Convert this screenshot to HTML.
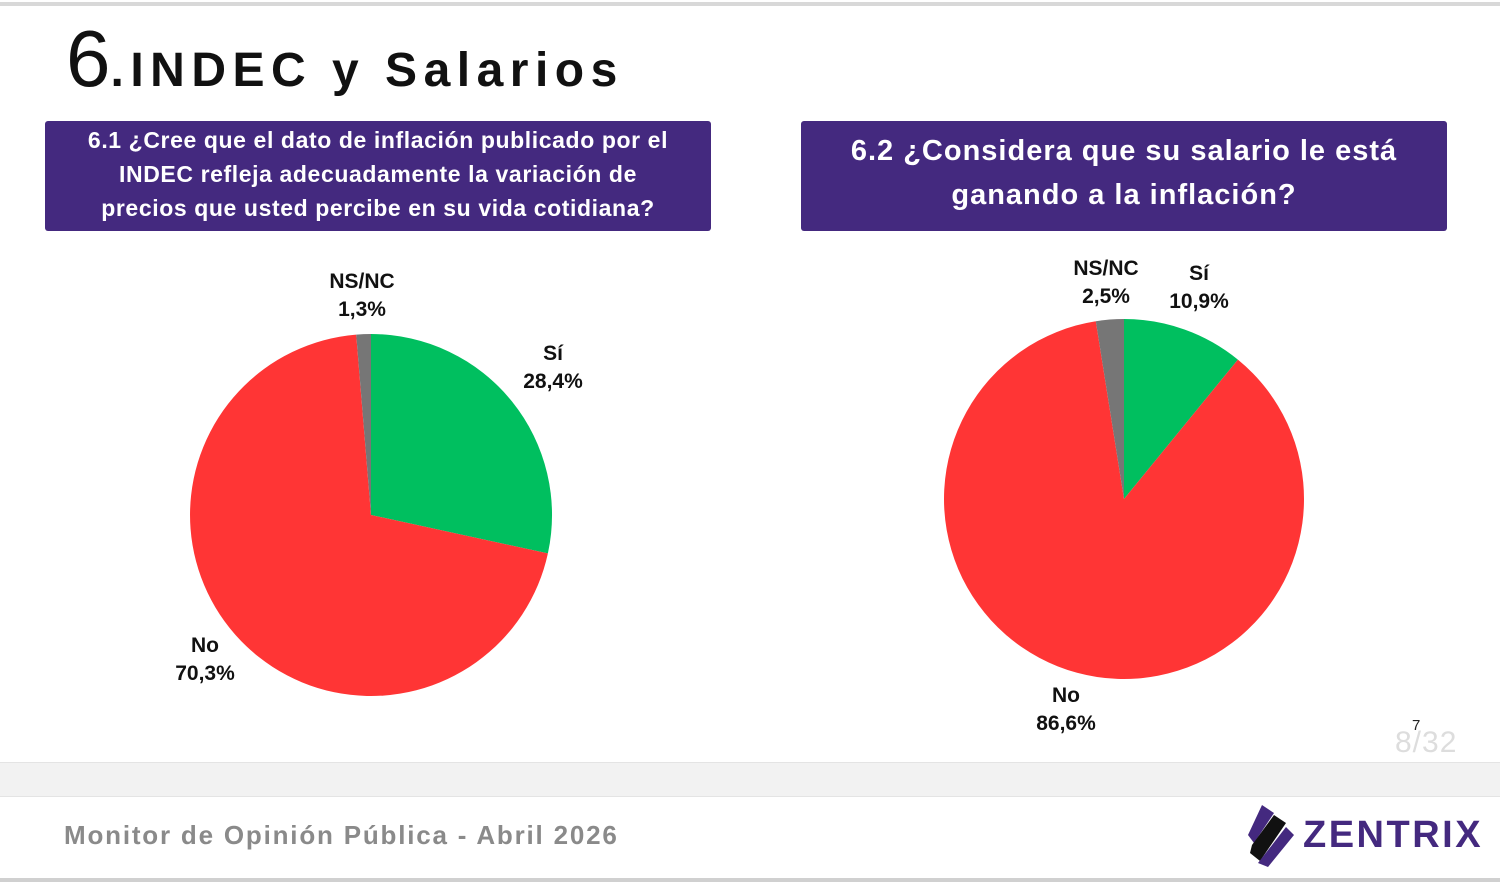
<!DOCTYPE html>
<html><head><meta charset="utf-8"><style>
body{margin:0;width:1500px;height:883px;background:#fff;position:relative;overflow:hidden;font-family:"Liberation Sans",sans-serif}
.abs{position:absolute}
.box{background:#44297f;color:#fff;font-weight:bold;text-align:center;border-radius:3px;position:absolute}
.lbl{position:absolute;font-weight:bold;font-size:21px;text-align:center;line-height:28px;color:#111}
</style></head><body>
<div class="abs" style="left:0;top:2px;width:1500px;height:4px;background:#d8d8d8"></div>
<div class="abs" style="left:66px;top:14px;font-size:80px;line-height:90px;color:#111">6<span style="font-size:48px;font-weight:bold;letter-spacing:6.5px">.INDEC y Salarios</span></div>
<div class="box" style="left:45px;top:121px;width:666px;height:110px;font-size:23px;line-height:34px;padding-top:2px;box-sizing:border-box;letter-spacing:0.6px">6.1 ¿Cree que el dato de inflación publicado por el<br>INDEC refleja adecuadamente la variación de<br>precios que usted percibe en su vida cotidiana?</div>
<div class="box" style="left:801px;top:121px;width:646px;height:110px;font-size:29px;line-height:44px;padding-top:8px;box-sizing:border-box;letter-spacing:1px">6.2 ¿Considera que su salario le está<br>ganando a la inflación?</div>
<svg class="abs" style="left:0;top:0" width="1500" height="883">
<path d="M371,515 L371,334 A181,181 0 0 1 547.9,553.4 Z" fill="#00bf5f"/>
<path d="M371,515 L547.9,553.4 A181,181 0 1 1 356.2,334.6 Z" fill="#ff3535"/>
<path d="M371,515 L356.2,334.6 A181,181 0 0 1 371,334 Z" fill="#767676"/>
<path d="M1124,499 L1124,319 A180,180 0 0 1 1237.9,359.6 Z" fill="#00bf5f"/>
<path d="M1124,499 L1237.9,359.6 A180,180 0 1 1 1095.8,321.2 Z" fill="#ff3535"/>
<path d="M1124,499 L1095.8,321.2 A180,180 0 0 1 1124,319 Z" fill="#767676"/>
<g transform="translate(1248,805)">
<path d="M14,0 L26,8 L6,38 L0,30 Z" fill="#44297f"/>
<path d="M26,10 L38,18 L12,56 L2,48 L4,40 Z" fill="#111"/>
<path d="M38,22 L46,30 L20,62 L10,58 Z" fill="#44297f"/>
</g>
</svg>
<div class="lbl" style="left:312px;top:268px;width:100px">NS/NC<br>1,3%</div>
<div class="lbl" style="left:503px;top:340px;width:100px">Sí<br>28,4%</div>
<div class="lbl" style="left:155px;top:632px;width:100px">No<br>70,3%</div>
<div class="lbl" style="left:1056px;top:255px;width:100px">NS/NC<br>2,5%</div>
<div class="lbl" style="left:1149px;top:260px;width:100px">Sí<br>10,9%</div>
<div class="lbl" style="left:1016px;top:682px;width:100px">No<br>86,6%</div>
<div class="abs" style="left:1412px;top:717px;font-size:15px;color:#222">7</div>
<div class="abs" style="left:1395px;top:726px;font-size:30px;color:#ddd;letter-spacing:1px">8/32</div>
<div class="abs" style="left:0;top:762px;width:1500px;height:33px;background:#f2f2f2;border-top:1px solid #e4e4e4;border-bottom:1px solid #e4e4e4"></div>
<div class="abs" style="left:64px;top:820px;font-size:26px;font-weight:bold;color:#8a8a8a;letter-spacing:1.8px">Monitor de Opinión Pública - Abril 2026</div>
<div class="abs" style="left:1303px;top:814px;font-size:38px;font-weight:bold;color:#44297f;letter-spacing:2.5px">ZENTRIX</div>
<div class="abs" style="left:0;top:878px;width:1500px;height:4px;background:#d0d0d0"></div>
</body></html>
